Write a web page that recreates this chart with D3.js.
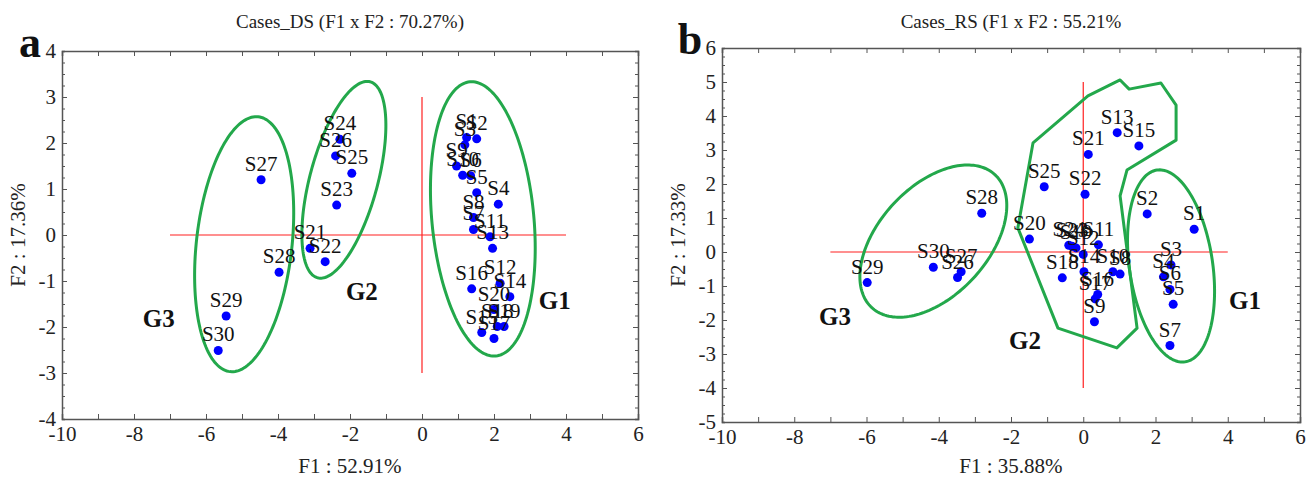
<!DOCTYPE html>
<html>
<head>
<meta charset="utf-8">
<script src="https://cdn.jsdelivr.net/npm/d3@7"></script>
<style>
  body { margin: 0; background: #fff; }
  text { font-family: "Liberation Serif", "Times New Roman", serif; }
</style>
</head>
<body>
<div id="chart"></div>
<script>
// ---- panel a : Cases_DS ----
var namesDS = ['S1','S2','S3','S9','S10','S6','S5','S4','S8','S7','S11','S13','S12','S14','S16','S20','S18','S19','S15','S17',
               'S21','S22','S23','S24','S25','S26','S27','S28','S29','S30'];
var f1DS = [1.24,1.52,1.19,0.96,1.13,1.35,1.52,2.12,1.43,1.43,1.89,1.96,2.17,2.44,1.38,2.00,2.09,2.28,1.66,2.00,
            -3.11,-2.69,-2.37,-2.28,-1.95,-2.40,-4.47,-3.97,-5.44,-5.66];
var f2DS = [2.12,2.09,1.96,1.50,1.30,1.29,0.92,0.67,0.38,0.12,-0.04,-0.29,-1.05,-1.34,-1.17,-1.62,-1.99,-1.99,-2.12,-2.25,
            -0.29,-0.58,0.65,2.08,1.34,1.72,1.20,-0.81,-1.76,-2.51];
// ellipses: [centre f1, centre f2, major dx, major dy, minor dx, minor dy]
var g1EllipseDS = [1.69, 0.35, -0.36, 2.98, 1.41, 0.104];
var g2EllipseDS = [-2.17, 1.20, 0.73, 2.13, 0.91, -0.19];
var g3EllipseDS = [-4.94, -0.20, 0.39, 2.77, 1.32, -0.11];
var groupNames = ['G1','G2','G3'];
var groupF1DS = [3.69, -1.67, -7.31];
var groupF2DS = [-1.41, -1.22, -1.80];

// ---- panel b : Cases_RS ----
var namesRS = ['S1','S2','S3','S4','S5','S6','S7',
               'S8','S9','S10','S11','S12','S13','S14','S15','S16','S17','S18','S19','S20','S21','S22','S23','S24','S25',
               'S26','S27','S28','S29','S30'];
var f1RS = [3.07,1.77,2.43,2.22,2.49,2.40,2.40,
            1.02,0.31,0.82,0.42,0.00,0.94,0.02,1.54,0.40,0.33,-0.58,-0.20,-1.49,0.14,0.05,-0.31,-0.40,-1.08,
            -3.48,-3.38,-2.81,-5.98,-4.15];
var f2RS = [0.67,1.12,-0.38,-0.73,-1.54,-1.10,-2.75,
            -0.65,-2.05,-0.58,0.21,-0.07,3.51,-0.58,3.12,-1.25,-1.38,-0.76,0.12,0.38,2.87,1.70,0.17,0.20,1.92,
            -0.75,-0.58,1.14,-0.90,-0.45];
var g1EllipseRS = [2.43, -0.41, -0.39, 2.82, 1.14, 0.18];
var g3EllipseRS = [-4.15, 0.32, 1.71, 1.95, 1.10, -1.10];
var g2PolyF1 = [-1.39, 0.13, 1.02, 1.27, 2.15, 2.57, 2.57, 1.21, 1.02, 1.49, 0.93, -0.70, -1.81];
var g2PolyF2 = [3.21, 4.59, 5.06, 4.79, 4.97, 4.32, 3.29, 2.41, 1.65, -2.24, -2.82, -2.24, 0.71];
var groupF1RS = [4.48, -1.61, -6.87];
var groupF2RS = [-1.41, -2.59, -1.88];

var green = '#23a84b';

var svg = d3.select('#chart').append('svg')
    .attr('width', 1315)
    .attr('height', 484);

function ellipsePoints(e) {
    return d3.range(0, 2 * Math.PI, Math.PI / 90).map(function(t) {
        return [e[0] + e[2] * Math.cos(t) + e[4] * Math.sin(t),
                e[1] + e[3] * Math.cos(t) + e[5] * Math.sin(t)];
    });
}

function drawPanel(cfg) {
    var x = d3.scaleLinear().domain([-10, 6]).range([cfg.left, cfg.right]);
    var y = d3.scaleLinear().domain(cfg.ydom).range([cfg.bottom, cfg.top]);
    var g = svg.append('g');

    var xt = d3.range(-10, 7, 1);
    var yt = d3.range(cfg.ydom[0], cfg.ydom[1] + 0.001, 0.25);
    var fmtX = function(d) { return d % 2 === 0 ? String(d) : ''; };
    var fmtY = function(d) { return Number.isInteger(d) ? String(d) : ''; };

    // axes (ticks inward on all four sides)
    var ax = [
        g.append('g').attr('transform', 'translate(0,' + cfg.bottom + ')')
            .call(d3.axisBottom(x).tickValues(xt).tickSize(-5).tickPadding(7).tickFormat(fmtX)),
        g.append('g').attr('transform', 'translate(0,' + cfg.top + ')')
            .call(d3.axisTop(x).tickValues(xt).tickSize(-5).tickFormat('')),
        g.append('g').attr('transform', 'translate(' + cfg.left + ',0)')
            .call(d3.axisLeft(y).tickValues(yt).tickSize(-3).tickPadding(6).tickFormat(fmtY)),
        g.append('g').attr('transform', 'translate(' + cfg.right + ',0)')
            .call(d3.axisRight(y).tickValues(yt).tickSize(-3).tickFormat(''))
    ];
    ax.forEach(function(a) {
        a.select('.domain').attr('stroke', '#555').attr('stroke-width', 1.5);
        a.selectAll('.tick line').attr('stroke', '#555');
        a.selectAll('.tick text').attr('font-size', 21).attr('fill', '#222')
            .style('font-family', '"Liberation Serif", serif');
    });
    ax[2].selectAll('.tick line').attr('x2', function(d) { return Number.isInteger(d) ? 5 : 3; });
    ax[3].selectAll('.tick line').attr('x2', function(d) { return Number.isInteger(d) ? -5 : -3; });

    // red reference lines
    g.append('line').attr('x1', x(-7)).attr('x2', x(4)).attr('y1', y(0)).attr('y2', y(0))
        .attr('stroke', '#ff2020').attr('stroke-width', 1.2);
    g.append('line').attr('x1', x(0)).attr('x2', x(0)).attr('y1', y(cfg.vline[0])).attr('y2', y(cfg.vline[1]))
        .attr('stroke', '#ff2020').attr('stroke-width', 1.2);

    var line = d3.line().x(function(d) { return x(d[0]); }).y(function(d) { return y(d[1]); })
        .curve(d3.curveLinearClosed);
    cfg.ellipses.forEach(function(e) {
        g.append('path').attr('d', line(ellipsePoints(e)))
            .attr('fill', 'none').attr('stroke', green).attr('stroke-width', 3);
    });
    if (cfg.poly) {
        g.append('path').attr('d', line(d3.zip(cfg.poly[0], cfg.poly[1])))
            .attr('fill', 'none').attr('stroke', green).attr('stroke-width', 3)
            .attr('stroke-linejoin', 'round');
    }

    // points and labels
    var pts = d3.range(cfg.names.length);
    g.selectAll('circle.pt').data(pts).enter().append('circle')
        .attr('cx', function(i) { return x(cfg.f1[i]); })
        .attr('cy', function(i) { return y(cfg.f2[i]); })
        .attr('r', 4.5).attr('fill', '#0000ff');
    g.selectAll('text.lbl').data(pts).enter().append('text')
        .attr('x', function(i) { return x(cfg.f1[i]); })
        .attr('y', function(i) { return y(cfg.f2[i]) - 9; })
        .attr('text-anchor', 'middle').attr('font-size', 21).attr('fill', '#111')
        .text(function(i) { return cfg.names[i]; });

    g.selectAll('text.grp').data(groupNames).enter().append('text')
        .attr('x', function(d, i) { return x(cfg.gx[i]); })
        .attr('y', function(d, i) { return y(cfg.gy[i]) + 9; })
        .attr('text-anchor', 'middle').attr('font-size', 25).attr('font-weight', 'bold')
        .attr('fill', '#111')
        .text(function(d) { return d; });

    // titles
    var cx = (cfg.left + cfg.right) / 2;
    g.append('text').attr('x', cx).attr('y', 28).attr('text-anchor', 'middle')
        .attr('font-size', 19).attr('fill', '#222').text(cfg.title);
    g.append('text').attr('x', cx).attr('y', 473).attr('text-anchor', 'middle')
        .attr('font-size', 21).attr('fill', '#222').text(cfg.xlab);
    g.append('text')
        .attr('transform', 'translate(' + (cfg.left - 37) + ',' + ((cfg.top + cfg.bottom) / 2) + ') rotate(-90)')
        .attr('text-anchor', 'middle').attr('font-size', 21).attr('fill', '#222').text(cfg.ylab);
    g.append('text').attr('x', cfg.left - 32).attr('y', cfg.top + 6).attr('text-anchor', 'middle')
        .attr('font-size', 44).attr('font-weight', 'bold').attr('fill', '#111').text(cfg.letter);
}

drawPanel({
    left: 62, right: 638, top: 51, bottom: 419, ydom: [-4, 4], vline: [3, -3],
    names: namesDS, f1: f1DS, f2: f2DS,
    ellipses: [g1EllipseDS, g2EllipseDS, g3EllipseDS],
    gx: groupF1DS, gy: groupF2DS,
    title: 'Cases_DS (F1 x F2 : 70.27%)', xlab: 'F1 : 52.91%', ylab: 'F2 : 17.36%', letter: 'a'
});

drawPanel({
    left: 722, right: 1300, top: 48, bottom: 422, ydom: [-5, 6], vline: [5, -4],
    names: namesRS, f1: f1RS, f2: f2RS,
    ellipses: [g1EllipseRS, g3EllipseRS],
    poly: [g2PolyF1, g2PolyF2],
    gx: groupF1RS, gy: groupF2RS,
    title: 'Cases_RS (F1 x F2 : 55.21%', xlab: 'F1 : 35.88%', ylab: 'F2 : 17.33%', letter: 'b'
});
</script>
</body>
</html>
